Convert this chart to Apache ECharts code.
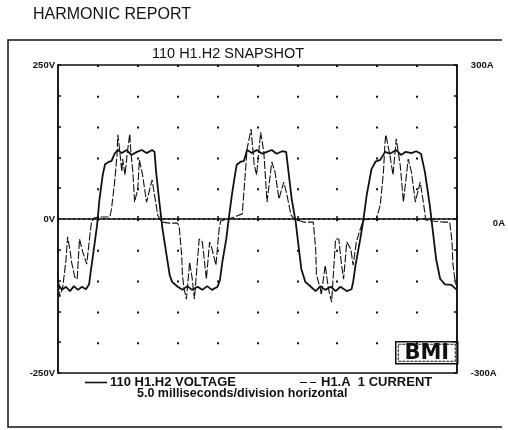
<!DOCTYPE html>
<html>
<head>
<meta charset="utf-8">
<script src="https://cdn.jsdelivr.net/npm/echarts@6/dist/echarts.min.js"></script>
<style>
html,body{margin:0;padding:0;background:#fff;}
#chart{width:508px;height:430px;}
</style>
</head>
<body>
<div id="chart"></div>
<script>
// ---- data (time in ms, voltage in V, current in A) ----
const pageTitle = 'HARMONIC REPORT';
const chartTitle = '110 H1.H2 SNAPSHOT';
const voltName = '110 H1.H2 VOLTAGE';
const currName = 'H1.A  1 CURRENT';
const xNote = '5.0 milliseconds/division horizontal';
const leftTicks = {'250': '250V', '0': '0V', '-250': '-250V'};
const rightTicks = {'300': '300A', '0': '0A', '-300': '-300A'};

const voltTime = [0.0,0.5,1.0,1.5,2.0,2.5,3.0,3.5,3.9,4.1,4.4,4.9,5.2,5.6,5.9,6.4,6.7,7.1,7.5,8.0,8.6,9.2,9.9,10.5,11.1,11.8,12.1,12.3,12.7,13.1,13.6,14.0,14.3,15.0,15.6,16.2,16.8,17.5,18.1,18.7,19.3,20.0,20.3,20.6,21.1,21.4,21.8,22.2,22.4,22.9,23.3,23.7,24.3,24.9,25.6,26.2,26.8,27.4,28.1,28.6,28.9,29.3,29.8,30.2,30.5,31.0,31.7,32.3,32.9,33.5,34.2,34.8,35.4,36.2,36.8,37.0,37.3,37.9,38.3,38.7,39.3,39.8,40.4,41.0,41.6,42.4,43.0,43.6,44.3,44.9,45.5,46.0,46.6,47.0,47.4,47.9,48.5,49.3,50.0];
const voltValues = [-106,-115,-110,-117,-109,-115,-110,-114,-106,-86,-58,-10,32,71,89,93,94,106,112,107,112,104,109,112,107,112,109,76,28,-16,-58,-91,-102,-110,-115,-109,-115,-110,-115,-109,-115,-110,-99,-70,-32,0,39,73,88,93,94,112,107,112,106,109,112,106,110,109,76,32,-5,-49,-81,-102,-110,-117,-109,-115,-110,-117,-110,-117,-114,-102,-75,-32,0,39,81,93,96,109,106,112,104,109,107,110,106,76,23,-21,-65,-97,-106,-107,-115];

const currTime = [0.0,0.2,0.6,1.0,1.2,1.5,1.7,2.1,2.4,2.7,3.1,3.6,4.0,4.2,4.5,5.2,6.0,6.5,6.7,7.1,7.4,7.5,7.7,8.0,8.1,8.4,8.7,9.0,9.1,9.4,9.6,10.0,10.2,10.6,11.1,11.5,11.8,12.1,12.5,13.0,14.0,15.0,15.2,15.5,15.6,15.8,16.1,16.5,16.8,17.1,17.7,18.1,18.6,19.0,19.3,19.8,20.2,20.4,21.4,23.1,23.4,23.7,24.2,24.6,24.9,25.4,25.8,26.2,26.8,27.2,27.7,28.3,28.7,29.2,29.6,30.8,32.0,32.3,32.4,32.9,33.0,33.5,33.9,34.3,34.8,35.2,35.5,35.8,36.2,36.7,37.0,37.4,37.9,38.3,39.1,39.9,40.4,40.8,41.0,41.1,41.6,42.0,42.4,42.9,43.3,43.9,44.3,44.8,45.4,45.8,46.1,47.0,48.3,49.1,49.4,49.5,49.8,50.0];
const currValues = [-103,-152,-132,-80,-35,-60,-84,-113,-117,-39,-64,-88,-31,-6,2,4,4,4,19,72,125,164,138,92,117,86,131,166,138,88,33,58,115,86,33,58,76,47,8,-6,-8,-8,-16,-70,-109,-136,-156,-84,-113,-156,-39,-45,-117,-45,-58,-90,-19,-4,0,10,72,136,175,105,86,169,131,33,111,92,39,72,47,8,0,-6,-6,-58,-109,-136,-148,-90,-136,-162,-39,-39,-84,-117,-45,-58,-90,-45,-19,-2,0,0,27,92,150,164,125,86,156,105,33,117,92,33,72,33,-2,-4,-6,-6,-45,-88,-123,-132];

const voltData = voltTime.map((t, i) => [t, voltValues[i]]);
const currData = currTime.map((t, i) => [t, currValues[i]]);

const FONT = 'Liberation Sans, Arial, sans-serif';
const INK = '#111';

const chart = echarts.init(document.getElementById('chart'), null, {renderer: 'canvas'});
chart.setOption({
  backgroundColor: '#fff',
  animation: false,
  title: [
    {text: pageTitle, left: 33, top: 7, padding: 0, textStyle: {fontFamily: FONT, fontSize: 16, fontWeight: 'normal', color: INK}},
    {text: chartTitle, left: 152, top: 46, padding: 0, textStyle: {fontFamily: FONT, fontSize: 14.5, fontWeight: 'normal', color: INK}}
  ],
  legend: [
    {data: [voltName], left: 85, top: 376, padding: 0, itemWidth: 22, itemHeight: 1.6, itemGap: 0,
     icon: 'rect',
     textStyle: {fontFamily: FONT, fontSize: 13, fontWeight: 'bold', color: INK, padding: [0, 0, 0, -2]}},
    {data: [currName], left: 300, top: 376, padding: 0, itemWidth: 16, itemHeight: 1.4, itemGap: 0,
     icon: 'path://M0,0h7v1h-7z M10,0h6v1h-6z',
     textStyle: {fontFamily: FONT, fontSize: 13, fontWeight: 'bold', color: INK, padding: [0, 0, 0, 0]}}
  ],
  graphic: [
    {type: 'polyline', silent: true, z: 0,
     shape: {points: [[502, 40], [8, 40], [8, 427], [502, 427]]},
     style: {stroke: INK, lineWidth: 1.5, fill: null}},
    {type: 'text', left: 137, top: 387, silent: true,
     style: {text: xNote, fontFamily: FONT, fontSize: 12.5, fontWeight: 'bold', fill: INK}},
    {type: 'group', left: 395, top: 341, z: 100, children: [
      {type: 'rect', shape: {x: 0, y: 0, width: 62, height: 22}, style: {fill: '#fff', stroke: INK, lineWidth: 1.5}},
      {type: 'rect', shape: {x: 2.5, y: 2.5, width: 57, height: 17}, style: {fill: null, stroke: INK, lineWidth: 1, lineDash: [3, 1]}},
      {type: 'text', x: 31, y: 11.5, style: {text: 'BMI', fontFamily: 'DejaVu Sans, sans-serif', fontSize: 21, fontWeight: 'bold', fill: INK, align: 'center', verticalAlign: 'middle'}}
    ]}
  ],
  grid: {left: 58, top: 65, width: 401, height: 308, show: true, borderColor: INK, borderWidth: 1.5, backgroundColor: 'transparent'},
  xAxis: {
    type: 'value', min: 0, max: 50, interval: 5,
    axisLine: {show: true, lineStyle: {color: INK, width: 1.5}},
    axisTick: {show: true, inside: true, length: 3, lineStyle: {color: INK, width: 1.5}},
    axisLabel: {show: false},
    splitLine: {show: true, lineStyle: {color: INK, width: 2, type: [2, 28.8]}}
  },
  yAxis: [
    {type: 'value', min: -250, max: 250, interval: 50, position: 'left',
     axisLine: {show: true, lineStyle: {color: INK, width: 1.5}},
     axisTick: {show: true, inside: true, length: 3, lineStyle: {color: INK, width: 1.5}},
     splitLine: {show: false},
     axisLabel: {margin: 3, fontFamily: FONT, fontSize: 9.5, fontWeight: 'bold', color: INK,
       formatter: v => leftTicks[String(v)] || ''}},
    {type: 'value', min: -300, max: 300, interval: 60, position: 'right',
     axisLine: {show: true, lineStyle: {color: INK, width: 1.5}},
     axisTick: {show: true, inside: true, length: 3, lineStyle: {color: INK, width: 1.5}},
     splitLine: {show: false},
     axisLabel: {margin: 14, fontFamily: FONT, fontSize: 9.5, fontWeight: 'bold', color: INK,
       formatter: v => {
         const s = rightTicks[String(v)] || '';
         return v === 0 ? '{z|' + s + '}' : s;
       },
       rich: {z: {fontFamily: FONT, fontSize: 9.5, fontWeight: 'bold', color: INK, padding: [8, 0, 0, 22]}}}}
  ],
  series: [
    {name: voltName, type: 'line', yAxisIndex: 0, data: voltData, symbol: 'none', smooth: false, z: 3,
     lineStyle: {color: INK, width: 1.8}, itemStyle: {color: INK},
     markLine: {silent: true, symbol: ['none', 'none'], label: {show: false},
       lineStyle: {color: INK, width: 1.6, type: [2, 3]}, data: [{yAxis: 0}]}},
    {name: currName, type: 'line', yAxisIndex: 1, data: currData, symbol: 'none', smooth: false, z: 2,
     lineStyle: {color: INK, width: 1.1, type: [8, 2]}, itemStyle: {color: INK}}
  ]
});
</script>
</body>
</html>
